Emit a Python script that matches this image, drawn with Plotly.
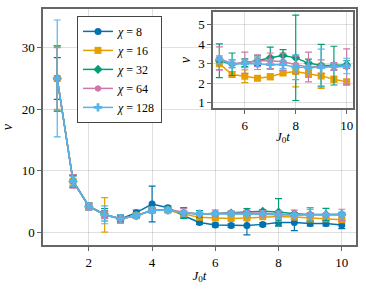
import plotly.graph_objects as go

t = [1, 1.5, 2, 2.5, 3, 3.5, 4, 4.5, 5, 5.5, 6, 6.5, 7, 7.5, 8, 8.5, 9, 9.5, 10]

nu_8 = [25, 8.4, 4.3, 2.9, 2.2, 3.2, 4.6, 4.0, 2.7, 1.6, 1.2, 1.1, 1.1, 1.3, 1.6, 1.6, 1.45, 1.45, 1.2]
err_8 = [3.4, 0.9, 0.5, 0.6, 0.5, 0.4, 2.9, 0.3, 0.4, 0.3, 0.3, 0.3, 1.5, 0.3, 0.6, 1.3, 0.4, 0.4, 0.6]

nu_16 = [25, 8.3, 4.2, 2.85, 2.2, 2.7, 3.6, 3.6, 3.0, 2.44, 2.35, 2.25, 2.33, 2.52, 2.6, 2.49, 2.37, 2.2, 2.06]
err_16 = [5.3, 1.0, 0.5, 2.8, 0.6, 0.4, 0.4, 0.3, 0.3, 0.15, 0.33, 0.1, 0.15, 0.1, 0.8, 0.2, 0.65, 0.15, 0.15]

nu_32 = [25, 8.3, 4.2, 2.85, 2.2, 2.7, 3.6, 3.7, 3.15, 2.97, 3.05, 3.15, 3.3, 3.42, 3.3, 3.03, 2.9, 2.9, 2.95]
err_32 = [5.3, 1.0, 0.5, 1.0, 0.5, 0.3, 0.3, 0.3, 0.87, 0.58, 0.2, 0.25, 0.55, 0.3, 2.2, 0.2, 1.1, 1.0, 0.2]

nu_64 = [25, 8.3, 4.2, 2.85, 2.2, 2.7, 3.6, 3.7, 3.27, 3.0, 3.05, 3.15, 3.15, 3.1, 2.95, 2.83, 2.85, 2.85, 2.84]
err_64 = [5.0, 1.1, 0.6, 0.6, 0.7, 0.4, 0.4, 0.3, 0.6, 0.2, 0.55, 0.3, 0.4, 0.45, 0.45, 0.77, 0.35, 0.2, 0.92]

nu_128 = [25, 8.3, 4.2, 2.85, 2.2, 2.7, 3.6, 3.6, 3.2, 3.0, 3.0, 3.0, 2.95, 2.95, 2.82, 2.8, 2.8, 2.85, 2.88]
err_128 = [9.5, 0.8, 0.5, 1.45, 0.7, 0.4, 0.4, 0.3, 0.2, 0.2, 0.2, 0.3, 0.25, 0.2, 0.64, 0.3, 0.95, 0.15, 0.4]

labels = ["8", "16", "32", "64", "128"]
series = [(nu_8, err_8), (nu_16, err_16), (nu_32, err_32), (nu_64, err_64), (nu_128, err_128)]
colors = ["#0072B2", "#E69F00", "#009E73", "#CC79A7", "#56B4E9"]
symbols = ["circle", "square", "diamond", "hexagon", "cross"]

FONT = "Liberation Serif, DejaVu Serif, serif"
fig = go.Figure()

for lab, (ys, es), c, s in zip(labels, series, colors, symbols):
    fig.add_trace(go.Scatter(
        x=t, y=ys, mode="lines+markers", name=f"<i>χ</i> = {lab}",
        line=dict(color=c, width=1.5),
        marker=dict(color=c, symbol=s, size=7),
        error_y=dict(type="data", array=es, visible=True, color=c, thickness=1.2, width=3.5),
        xaxis="x", yaxis="y",
    ))

for lab, (ys, es), c, s in list(zip(labels, series, colors, symbols))[1:]:
    idx = [i for i, v in enumerate(t) if v >= 5]
    fig.add_trace(go.Scatter(
        x=[t[i] for i in idx], y=[ys[i] for i in idx], mode="lines+markers",
        showlegend=False,
        line=dict(color=c, width=1.5),
        marker=dict(color=c, symbol=s, size=7),
        error_y=dict(type="data", array=[es[i] for i in idx], visible=True, color=c, thickness=1.2, width=3.5),
        xaxis="x2", yaxis="y2",
    ))

W, H = 366, 292
def dx(a, b):
    return [a / W, b / W]
def dy(top, bot):
    return [1 - bot / H, 1 - top / H]

grid = "rgba(0,0,0,0.12)"
spine = "#666666"
axcommon = dict(showline=True, linecolor=spine, linewidth=1.5, mirror=True,
                showgrid=True, gridcolor=grid, gridwidth=1, zeroline=False,
                ticks="outside", ticklen=4, tickcolor=spine, tickwidth=1,
                tickfont=dict(family=FONT, size=13, color="black"))

fig.update_layout(
    width=W, height=H,
    margin=dict(l=0, r=0, t=0, b=0),
    paper_bgcolor="white", plot_bgcolor="white",
    font=dict(family=FONT, size=13, color="black"),
    xaxis=dict(domain=dx(43, 356), range=[0.55, 10.45], tickvals=[2, 4, 6, 8, 10],
               title=dict(text="<i>J</i><sub>0</sub><i>t</i>", standoff=2,
                          font=dict(family=FONT, size=13)),
               anchor="y", **axcommon),
    yaxis=dict(domain=dy(9, 247), range=[-2.1, 36.3], tickvals=[0, 10, 20, 30],
               title=dict(text="<i>ν</i>", standoff=6, font=dict(family=FONT, size=14)),
               anchor="x", **axcommon),
    xaxis2=dict(domain=dx(213, 353), range=[4.75, 10.25], tickvals=[6, 8, 10],
                title=dict(text="<i>J</i><sub>0</sub><i>t</i>", standoff=0,
                           font=dict(family=FONT, size=13)),
                anchor="y2", **axcommon),
    yaxis2=dict(domain=dy(12, 109), range=[0.7, 5.67], tickvals=[1, 2, 3, 4, 5],
                title=dict(text="<i>ν</i>", standoff=4, font=dict(family=FONT, size=14)),
                anchor="x2", **axcommon),
    legend=dict(x=77 / W, y=1 - 16 / H, xanchor="left", yanchor="top",
                bgcolor="white", bordercolor="#444444", borderwidth=1,
                font=dict(family=FONT, size=12), itemwidth=30,
                tracegroupgap=0),
    showlegend=True,
)

fig.write_html("out.html", config={"displayModeBar": False},
               post_script="document.body.style.margin='0';document.body.style.padding='0';")
